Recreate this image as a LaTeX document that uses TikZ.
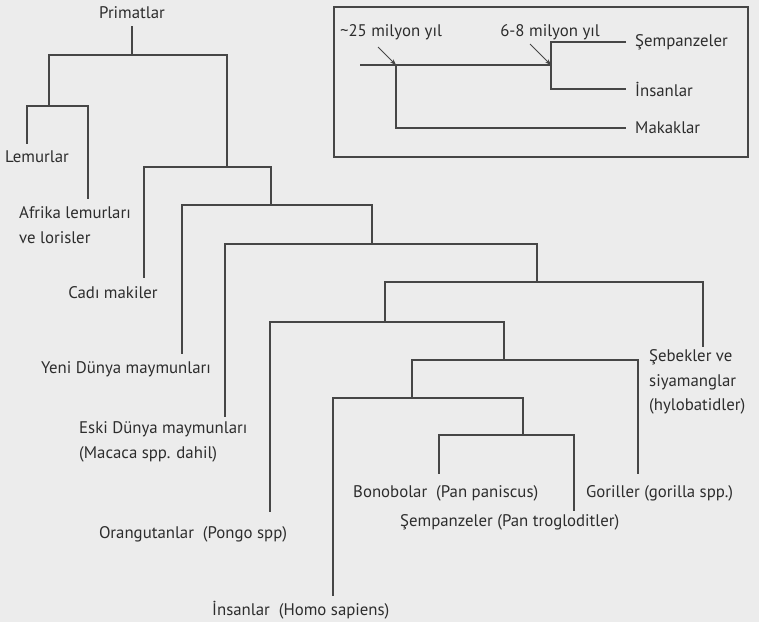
\documentclass[tikz,border=0pt]{standalone}
\usepackage{fontspec}
\setmainfont{PT Sans}
\usetikzlibrary{arrows.meta}
\definecolor{paper}{RGB}{236,236,236}
\definecolor{ink}{RGB}{70,70,70}
\definecolor{inktext}{RGB}{45,45,45}

\begin{document}
\begin{tikzpicture}[
        x=1pt, y=-1pt,
        branch/.style={draw=ink, line width=1.9pt, line cap=rect},
        taxon/.style={text=inktext, font=\fontsize{16.8}{24.5}\selectfont, inner sep=0pt, align=left},
        insetline/.style={draw=ink, line width=1.6pt},
        pointer/.style={draw=ink, line width=1pt, -{Stealth[length=6pt, width=4.5pt]}}
    ]
    \useasboundingbox[fill=paper] (0,0) rectangle (759,622);

    % branch points (stem x, bracket y)
    \coordinate (p0) at (132,55);
    \coordinate (p1) at (49,106);
    \coordinate (p2) at (227,167);
    \coordinate (p3) at (271,205);
    \coordinate (p4) at (372,244);
    \coordinate (p5) at (537,282);
    \coordinate (p6) at (385,322);
    \coordinate (p7) at (504,360);
    \coordinate (p8) at (412,398);
    \coordinate (p9) at (523,435);

    % tips
    \coordinate (tLemur) at (27,143);
    \coordinate (tAfrika) at (88,198);
    \coordinate (tCadi) at (144,277);
    \coordinate (tYeni) at (182,353);
    \coordinate (tEski) at (225,416);
    \coordinate (tSebek) at (703,346);
    \coordinate (tOrang) at (270,511);
    \coordinate (tGoril) at (638,473);
    \coordinate (tInsan) at (333,595);
    \coordinate (tBonobo) at (439,473);
    \coordinate (tSempanze) at (574,510);

    \node[taxon] (primatlar) at (132,13) {Primatlar};
    \node[taxon] (lemur) at (37,157) {Lemurlar};
    \node[taxon, anchor=west] (afrika) at (19,225) {Afrika lemurları\\ve lorisler};
    \node[taxon] (cadi) at (113,293) {Cadı makiler};
    \node[taxon] (yeni) at (126,369) {Yeni Dünya maymunları};
    \node[taxon, anchor=west] (eski) at (79,442) {Eski Dünya maymunları\\(Macaca spp. dahil)};
    \node[taxon, anchor=west] (sebek) at (649,382) {Şebekler ve\\siyamanglar\\(hylobatidler)};
    \node[taxon] (orang) at (193,534) {Orangutanlar\ \ (Pongo spp)};
    \node[taxon, anchor=west] (goril) at (586,493) {Goriller (gorilla spp.)};
    \node[taxon, anchor=west] (bonobo) at (353,493) {Bonobolar\ \ (Pan paniscus)};
    \node[taxon, anchor=west] (sempanze) at (400,522) {Şempanzeler (Pan trogloditler)};
    \node[taxon, anchor=west] (insan) at (212,610) {İnsanlar\ \ (Homo sapiens)};

    \draw[branch, shorten <=8pt] (primatlar.south) -- (p0);
    \draw[branch] (p1) |- (p0) -| (p2);
    \draw[branch] (tLemur) |- (p1) -| (tAfrika);
    \draw[branch] (tCadi) |- (p2) -| (p3);
    \draw[branch] (tYeni) |- (p3) -| (p4);
    \draw[branch] (tEski) |- (p4) -| (p5);
    \draw[branch] (p6) |- (p5) -| (tSebek);
    \draw[branch] (tOrang) |- (p6) -| (p7);
    \draw[branch] (p8) |- (p7) -| (tGoril);
    \draw[branch] (tInsan) |- (p8) -| (p9);
    \draw[branch] (tBonobo) |- (p9) -| (tSempanze);

    % inset
    \draw[draw=ink, line width=1.2pt] (334,7) rectangle (748,157);
    \coordinate (base) at (360,65);
    \coordinate (q25) at (396,65);
    \coordinate (q68) at (551,65);
    \coordinate (qSemp) at (551,42);
    \coordinate (qInsan) at (551,89);
    \coordinate (qMak) at (396,128);
    \node[taxon, anchor=west] (iSemp) at (635,42) {Şempanzeler};
    \node[taxon, anchor=west] (iInsan) at (635,89) {İnsanlar};
    \node[taxon, anchor=west] (iMak) at (635,128) {Makaklar};
    \node[taxon] (m25) at (391,32) {\textasciitilde25 milyon yıl};
    \node[taxon] (m68) at (550,32) {6-8 milyon yıl};
    \coordinate (a25) at (378,47);
    \coordinate (a68) at (530,44);

    \draw[insetline] (base) -- (q68);
    \draw[insetline] (q25) |- ([xshift=-9pt]iMak.west);
    \draw[insetline] ([xshift=-9pt]iSemp.west) -| (qInsan) -- ([xshift=-9pt]iInsan.west);
    \draw[pointer] (a25) -- (q25);
    \draw[pointer] (a68) -- (q68);
\end{tikzpicture}
\end{document}
